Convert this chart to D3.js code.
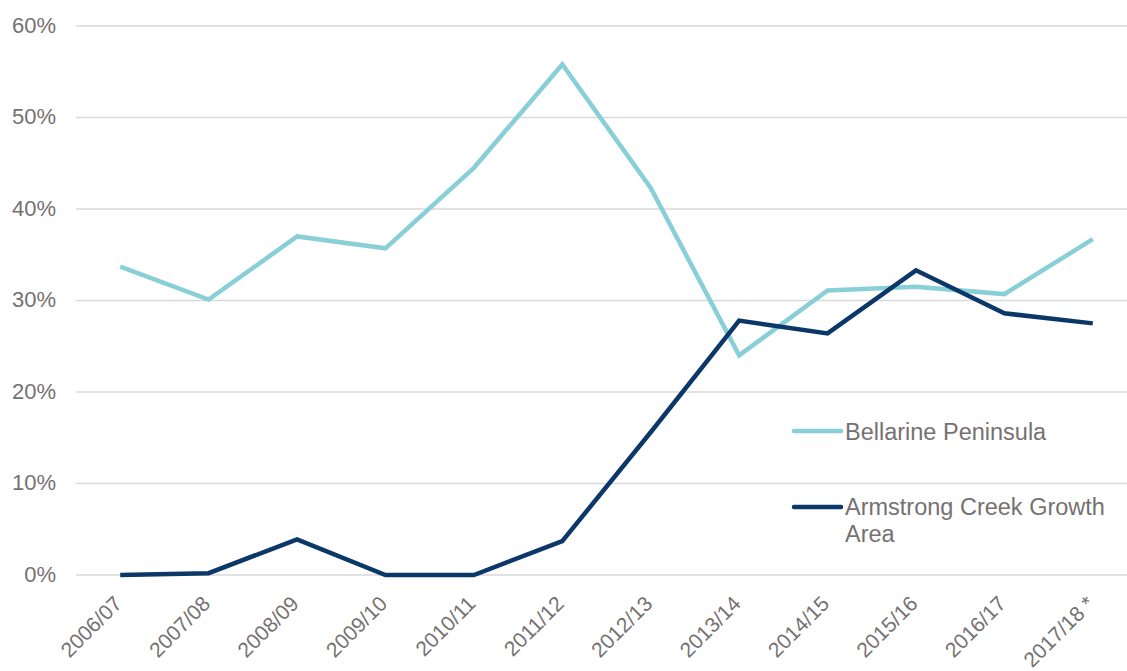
<!DOCTYPE html>
<html><head><meta charset="utf-8">
<script src="https://cdn.jsdelivr.net/npm/d3@7"></script>
<style>body{margin:0;background:#fff;}svg{display:block;font-family:"Liberation Sans",Arial,sans-serif;}</style>
</head><body>
<svg id="c" width="1127" height="671"></svg>
<script>
const categories = ["2006/07","2007/08","2008/09","2009/10","2010/11","2011/12","2012/13","2013/14","2014/15","2015/16","2016/17","2017/18 *"];
const bellarine = [33.7,30.1,37.0,35.7,44.5,55.8,42.3,24.0,31.1,31.5,30.7,36.7];
const armstrong = [0,0.2,3.9,0,0,3.7,15.6,27.8,26.4,33.3,28.6,27.5];
const yTicks = [0,10,20,30,40,50,60];
const seriesNames = ["Bellarine Peninsula","Armstrong Creek Growth Area"];

const svg = d3.select("#c");
const mLeft = 76, mRight = 1137, mTop = 26, mBottom = 575;
const x = d3.scaleBand().domain(categories).range([mLeft, mRight]);
const y = d3.scaleLinear().domain([0,60]).range([mBottom, mTop]);
const textCol = "#767171";

// gridlines
svg.append("g").selectAll("line").data(yTicks).join("line")
  .attr("x1", mLeft).attr("x2", 1127)
  .attr("y1", d=>y(d)).attr("y2", d=>y(d))
  .attr("stroke", "#d9d9d9").attr("stroke-width", 1.5);

// y axis labels
const yAxis = d3.axisLeft(y).tickValues(yTicks).tickFormat(d=>d+"%").tickSize(0).tickPadding(0);
const gy = svg.append("g").attr("transform", `translate(56,-1)`).call(yAxis);
gy.select(".domain").remove();
gy.selectAll("text").attr("fill", textCol).attr("font-size", 22).attr("font-family","Liberation Sans, Arial, sans-serif");

// x axis labels
const xAxis = d3.axisBottom(x).tickSize(0).tickPadding(0);
const gx = svg.append("g").attr("transform", `translate(0,${mBottom})`).call(xAxis);
gx.select(".domain").remove();
gx.selectAll("text").attr("fill", textCol).attr("font-size", 21).attr("font-family","Liberation Sans, Arial, sans-serif")
  .attr("text-anchor","end").attr("dy",null).attr("y",null)
  .attr("transform","translate(3,30) rotate(-45)");

const cx = d => x(d) + x.bandwidth()/2;
const line = d3.line().x((d,i)=>cx(categories[i])).y(d=>y(d));

svg.append("path").datum(bellarine).attr("d", line).attr("fill","none")
  .attr("stroke","#88cfd8").attr("stroke-width",4.5).attr("stroke-linejoin","miter");
svg.append("path").datum(armstrong).attr("d", line).attr("fill","none")
  .attr("stroke","#0b3868").attr("stroke-width",4.5).attr("stroke-linejoin","miter");

// legend
const lg = svg.append("g");
lg.append("line").attr("x1",794).attr("x2",841).attr("y1",431).attr("y2",431).attr("stroke","#88cfd8").attr("stroke-width",4.5).attr("stroke-linecap","round");
lg.append("text").attr("x",845).attr("y",440).attr("fill",textCol).attr("font-size",23.5).text(seriesNames[0]);
lg.append("line").attr("x1",794).attr("x2",841).attr("y1",507).attr("y2",507).attr("stroke","#0b3868").attr("stroke-width",4.5).attr("stroke-linecap","round");
const t2 = lg.append("text").attr("x",845).attr("y",515).attr("fill",textCol).attr("font-size",23.5);
t2.append("tspan").attr("x",845).text("Armstrong Creek Growth");
t2.append("tspan").attr("x",845).attr("dy",27).text("Area");
</script>
</body></html>
